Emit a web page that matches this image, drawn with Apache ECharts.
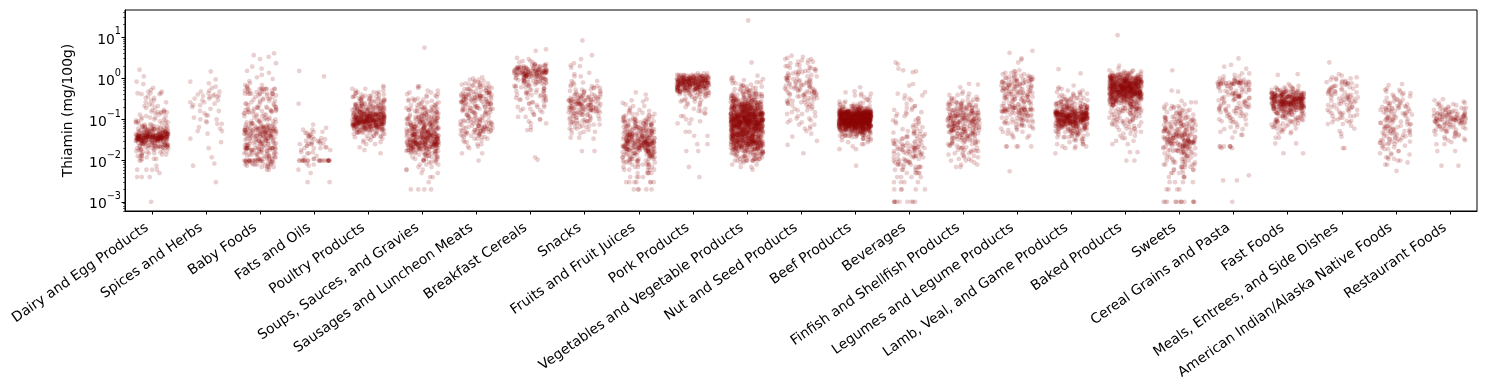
<!DOCTYPE html>
<html><head><meta charset="utf-8">
<script src="https://cdn.jsdelivr.net/npm/echarts@6/dist/echarts.min.js"></script>
<style>html,body{margin:0;padding:0;background:#fff}#c{width:1486px;height:390px}</style>
</head><body><div id="c"></div>
<script>
// ---- categories (x tick labels) ----
const categories = ["Dairy and Egg Products","Spices and Herbs","Baby Foods","Fats and Oils","Poultry Products","Soups, Sauces, and Gravies","Sausages and Luncheon Meats","Breakfast Cereals","Snacks","Fruits and Fruit Juices","Pork Products","Vegetables and Vegetable Products","Nut and Seed Products","Beef Products","Beverages","Finfish and Shellfish Products","Legumes and Legume Products","Lamb, Veal, and Game Products","Baked Products","Sweets","Cereal Grains and Pasta","Fast Foods","Meals, Entrees, and Side Dishes","American Indian/Alaska Native Foods","Restaurant Foods"];

// ---- y tick labels ----
const yMajorTicks = [0.001, 0.01, 0.1, 1, 10];

// ---- thiamin values per category, as [value mg/100g, number of foods] ----
const dairy = [[1.6,1],[1.1,1],[0.82,1],[0.72,1],[0.58,1],[0.52,1],[0.47,2],[0.43,3],[0.41,2],[0.36,1],[0.33,2],[0.29,2],[0.26,2],[0.23,2],[0.21,2],[0.19,2],[0.17,2],[0.155,3],[0.15,3],[0.14,2],[0.13,2],[0.12,2],[0.11,3],[0.1,3],[0.095,2],[0.09,2],[0.085,3],[0.08,3],[0.075,3],[0.07,4],[0.066,4],[0.063,5],[0.06,6],[0.057,6],[0.055,6],[0.052,7],[0.05,8],[0.048,9],[0.046,10],[0.044,12],[0.042,14],[0.04,16],[0.039,14],[0.038,14],[0.037,14],[0.036,14],[0.035,14],[0.034,12],[0.033,10],[0.032,10],[0.031,9],[0.03,9],[0.029,6],[0.028,5],[0.027,5],[0.026,5],[0.025,5],[0.024,6],[0.023,7],[0.022,7],[0.021,5],[0.02,5],[0.019,3],[0.018,3],[0.017,3],[0.016,3],[0.015,3],[0.014,3],[0.013,3],[0.012,2],[0.011,3],[0.01,2],[0.0075,1],[0.006,4],[0.005,1],[0.004,3],[0.001,1]];
const spices = [[1.45,1],[0.93,1],[0.82,1],[0.75,1],[0.62,1],[0.58,1],[0.5,1],[0.47,2],[0.43,1],[0.4,2],[0.37,3],[0.35,2],[0.32,2],[0.29,2],[0.26,2],[0.24,1],[0.22,2],[0.2,1],[0.18,1],[0.16,2],[0.14,1],[0.125,2],[0.11,1],[0.1,2],[0.09,1],[0.085,1],[0.078,2],[0.065,1],[0.06,1],[0.052,2],[0.045,1],[0.034,1],[0.028,1],[0.02,1],[0.012,1],[0.0085,1],[0.0075,1],[0.003,1]];
const babyFoods = [[4.0,1],[3.6,1],[3.3,1],[2.9,1],[2.3,1],[1.9,1],[1.7,1],[1.5,1],[1.35,1],[1.2,1],[1.05,1],[0.95,1],[0.85,1],[0.75,1],[0.68,2],[0.62,2],[0.55,10],[0.5,4],[0.46,3],[0.42,10],[0.38,3],[0.35,2],[0.32,3],[0.3,2],[0.28,3],[0.26,2],[0.24,3],[0.22,3],[0.2,4],[0.19,3],[0.18,3],[0.17,4],[0.16,5],[0.15,3],[0.14,3],[0.13,3],[0.12,3],[0.11,3],[0.1,4],[0.095,2],[0.09,3],[0.085,3],[0.08,4],[0.075,4],[0.07,5],[0.066,5],[0.063,6],[0.06,8],[0.057,6],[0.055,8],[0.052,6],[0.05,10],[0.047,6],[0.045,6],[0.043,6],[0.04,10],[0.038,5],[0.036,5],[0.034,5],[0.032,5],[0.03,8],[0.028,4],[0.026,5],[0.025,5],[0.024,4],[0.022,5],[0.02,16],[0.019,4],[0.018,5],[0.017,4],[0.016,5],[0.015,5],[0.014,5],[0.013,5],[0.012,5],[0.011,6],[0.01,18],[0.0095,3],[0.009,5],[0.0085,3],[0.008,5],[0.0075,3],[0.007,4],[0.006,2]];
const fatsOils = [[1.5,1],[1.1,1],[0.24,1],[0.075,1],[0.062,1],[0.056,2],[0.05,2],[0.047,2],[0.043,2],[0.04,2],[0.037,2],[0.035,2],[0.033,2],[0.03,3],[0.028,2],[0.026,3],[0.025,3],[0.023,2],[0.021,2],[0.02,3],[0.018,2],[0.016,2],[0.015,2],[0.013,1],[0.012,1],[0.011,2],[0.01,22],[0.0085,1],[0.008,1],[0.0075,1],[0.006,1],[0.005,1],[0.003,2]];
const poultry = [[0.65,1],[0.6,1],[0.55,2],[0.5,2],[0.46,3],[0.43,3],[0.4,3],[0.37,4],[0.35,4],[0.33,4],[0.31,5],[0.29,5],[0.27,5],[0.25,6],[0.235,6],[0.22,6],[0.21,6],[0.2,7],[0.19,7],[0.18,8],[0.17,8],[0.16,9],[0.15,10],[0.14,11],[0.135,11],[0.13,12],[0.125,12],[0.12,13],[0.115,13],[0.11,14],[0.105,14],[0.1,15],[0.097,14],[0.094,14],[0.09,15],[0.087,14],[0.084,14],[0.08,15],[0.077,13],[0.074,13],[0.07,13],[0.067,11],[0.064,10],[0.06,10],[0.057,8],[0.054,7],[0.05,6],[0.047,5],[0.044,4],[0.04,4],[0.037,3],[0.034,2],[0.031,2],[0.028,2],[0.025,2],[0.021,1],[0.018,1],[0.015,1]];
const soups = [[5.5,1],[0.63,2],[0.58,1],[0.5,2],[0.45,2],[0.41,2],[0.38,2],[0.35,2],[0.32,2],[0.3,3],[0.28,3],[0.26,3],[0.24,3],[0.22,4],[0.2,4],[0.19,4],[0.18,4],[0.17,4],[0.16,5],[0.15,5],[0.14,5],[0.13,5],[0.12,5],[0.115,5],[0.11,5],[0.105,5],[0.1,6],[0.095,6],[0.09,6],[0.085,6],[0.08,7],[0.076,7],[0.072,7],[0.068,7],[0.064,8],[0.06,8],[0.057,8],[0.054,8],[0.051,9],[0.048,9],[0.045,10],[0.043,10],[0.041,10],[0.039,10],[0.037,11],[0.035,11],[0.033,11],[0.031,11],[0.029,11],[0.028,10],[0.027,10],[0.026,10],[0.025,10],[0.024,10],[0.023,9],[0.022,9],[0.021,8],[0.02,8],[0.019,7],[0.018,7],[0.017,6],[0.016,6],[0.015,5],[0.014,5],[0.013,4],[0.012,4],[0.011,4],[0.01,5],[0.009,3],[0.008,3],[0.007,2],[0.006,3],[0.005,2],[0.004,2],[0.003,1],[0.002,4]];
const sausages = [[1.05,1],[0.98,1],[0.92,2],[0.86,2],[0.8,2],[0.75,3],[0.7,3],[0.66,3],[0.62,3],[0.58,4],[0.54,4],[0.5,4],[0.47,4],[0.44,5],[0.41,5],[0.39,5],[0.37,6],[0.35,6],[0.33,6],[0.31,6],[0.29,6],[0.27,5],[0.26,5],[0.24,5],[0.23,4],[0.21,4],[0.2,4],[0.19,4],[0.18,4],[0.17,4],[0.16,4],[0.15,4],[0.14,4],[0.13,4],[0.12,4],[0.11,4],[0.1,4],[0.095,4],[0.09,4],[0.085,4],[0.08,4],[0.075,4],[0.07,5],[0.066,5],[0.062,5],[0.058,5],[0.055,5],[0.052,5],[0.049,5],[0.046,4],[0.043,4],[0.04,3],[0.037,3],[0.034,3],[0.031,2],[0.028,2],[0.025,2],[0.022,2],[0.02,1],[0.015,2],[0.01,1]];
const breakfastCereals = [[5.0,1],[4.6,1],[3.1,1],[2.9,1],[2.6,2],[2.4,2],[2.2,3],[2.05,4],[1.95,5],[1.85,6],[1.75,7],[1.65,8],[1.58,8],[1.5,10],[1.43,10],[1.36,10],[1.3,10],[1.24,9],[1.18,8],[1.12,7],[1.06,6],[1.0,6],[0.95,5],[0.9,5],[0.85,5],[0.8,5],[0.75,4],[0.7,4],[0.65,4],[0.6,3],[0.56,3],[0.52,3],[0.48,3],[0.45,3],[0.42,3],[0.39,3],[0.36,3],[0.33,3],[0.3,3],[0.28,2],[0.26,2],[0.24,2],[0.22,2],[0.2,3],[0.18,2],[0.165,2],[0.15,2],[0.13,2],[0.115,2],[0.1,2],[0.09,1],[0.08,2],[0.065,1],[0.055,2],[0.012,1],[0.0105,1]];
const snacks = [[8.2,1],[3.6,1],[2.9,1],[2.3,1],[2.05,1],[1.95,1],[1.8,1],[1.35,1],[1.25,1],[1.1,2],[0.85,2],[0.78,2],[0.7,2],[0.64,3],[0.58,3],[0.53,3],[0.49,3],[0.45,4],[0.41,4],[0.38,5],[0.35,5],[0.33,6],[0.31,6],[0.29,7],[0.27,7],[0.25,7],[0.235,7],[0.22,7],[0.205,7],[0.19,7],[0.18,6],[0.17,6],[0.16,6],[0.15,5],[0.14,5],[0.13,5],[0.12,4],[0.11,4],[0.1,4],[0.095,3],[0.09,3],[0.085,3],[0.08,3],[0.075,3],[0.07,2],[0.065,3],[0.06,2],[0.055,2],[0.05,2],[0.046,2],[0.036,2],[0.034,1],[0.017,2]];
const fruits = [[0.45,1],[0.4,1],[0.31,1],[0.29,1],[0.27,1],[0.25,1],[0.23,1],[0.21,2],[0.19,1],[0.17,2],[0.16,2],[0.145,2],[0.135,3],[0.125,3],[0.115,3],[0.105,4],[0.1,4],[0.095,4],[0.09,5],[0.085,5],[0.08,5],[0.075,6],[0.07,6],[0.066,6],[0.062,6],[0.058,6],[0.055,6],[0.052,7],[0.049,7],[0.046,7],[0.043,8],[0.041,8],[0.039,8],[0.037,8],[0.035,8],[0.033,8],[0.031,8],[0.03,8],[0.029,8],[0.028,8],[0.027,8],[0.026,8],[0.025,8],[0.024,8],[0.023,8],[0.022,8],[0.021,8],[0.02,9],[0.019,8],[0.018,8],[0.017,7],[0.016,7],[0.015,7],[0.014,7],[0.013,6],[0.012,6],[0.011,6],[0.01,7],[0.009,6],[0.008,6],[0.007,5],[0.006,5],[0.005,5],[0.004,4],[0.003,7],[0.002,5]];
const pork = [[1.3,3],[1.2,6],[1.15,8],[1.1,10],[1.05,12],[1.0,13],[0.96,13],[0.92,14],[0.88,14],[0.85,14],[0.82,14],[0.79,14],[0.76,14],[0.73,14],[0.7,14],[0.67,13],[0.64,13],[0.61,12],[0.58,12],[0.55,11],[0.52,10],[0.5,9],[0.47,8],[0.44,7],[0.41,5],[0.38,4],[0.35,3],[0.32,3],[0.29,3],[0.27,2],[0.25,2],[0.23,2],[0.2,2],[0.18,2],[0.16,2],[0.14,2],[0.12,2],[0.1,2],[0.09,1],[0.08,2],[0.05,2],[0.04,2],[0.025,2],[0.017,2],[0.007,1],[0.004,1]];
const vegetables = [[25,1],[2.4,1],[1.15,1],[1.05,1],[1.0,1],[0.95,1],[0.9,2],[0.85,1],[0.8,2],[0.75,2],[0.7,2],[0.66,2],[0.62,3],[0.58,3],[0.54,3],[0.5,4],[0.47,4],[0.44,5],[0.41,5],[0.39,5],[0.37,6],[0.35,6],[0.33,7],[0.31,8],[0.29,9],[0.275,9],[0.26,10],[0.245,11],[0.23,12],[0.22,13],[0.21,14],[0.2,15],[0.19,15],[0.18,16],[0.17,17],[0.16,18],[0.15,19],[0.14,19],[0.135,19],[0.13,19],[0.125,19],[0.12,19],[0.115,19],[0.11,19],[0.105,19],[0.1,20],[0.097,20],[0.094,20],[0.09,20],[0.087,20],[0.084,20],[0.08,21],[0.077,21],[0.074,21],[0.07,21],[0.067,20],[0.064,20],[0.06,20],[0.057,19],[0.054,19],[0.051,19],[0.048,18],[0.045,17],[0.043,17],[0.041,17],[0.039,16],[0.037,16],[0.035,15],[0.033,15],[0.031,14],[0.03,13],[0.029,13],[0.028,12],[0.027,12],[0.026,12],[0.025,11],[0.024,11],[0.023,10],[0.022,10],[0.021,10],[0.02,10],[0.019,9],[0.018,8],[0.017,8],[0.016,7],[0.015,7],[0.014,6],[0.013,6],[0.012,6],[0.011,6],[0.01,10],[0.009,2],[0.008,2],[0.007,2],[0.006,1]];
const nutsSeeds = [[3.5,1],[3.3,1],[3.1,1],[2.9,2],[2.7,2],[2.5,2],[2.3,2],[2.1,2],[1.95,2],[1.8,3],[1.65,3],[1.5,3],[1.4,3],[1.3,3],[1.2,3],[1.1,3],[1.02,3],[0.95,4],[0.88,4],[0.82,4],[0.76,4],[0.7,4],[0.65,4],[0.6,4],[0.56,4],[0.52,4],[0.48,4],[0.45,4],[0.42,4],[0.39,4],[0.36,4],[0.33,3],[0.3,3],[0.28,3],[0.26,3],[0.24,3],[0.22,3],[0.2,2],[0.18,2],[0.165,2],[0.15,2],[0.135,2],[0.12,2],[0.105,2],[0.095,2],[0.085,2],[0.075,2],[0.067,1],[0.06,2],[0.052,1],[0.045,1],[0.038,1],[0.03,1],[0.024,1],[0.015,1]];
const beef = [[0.6,1],[0.48,1],[0.45,1],[0.42,2],[0.38,2],[0.34,2],[0.3,2],[0.27,3],[0.25,3],[0.23,4],[0.21,5],[0.2,6],[0.19,8],[0.18,10],[0.17,13],[0.16,16],[0.155,19],[0.15,22],[0.145,25],[0.14,28],[0.135,31],[0.13,33],[0.125,35],[0.12,37],[0.115,38],[0.11,40],[0.105,41],[0.1,42],[0.097,41],[0.094,41],[0.09,41],[0.087,40],[0.084,39],[0.08,38],[0.077,36],[0.074,34],[0.07,32],[0.067,29],[0.064,26],[0.06,23],[0.057,19],[0.054,15],[0.051,12],[0.048,10],[0.045,8],[0.042,7],[0.04,6],[0.037,5],[0.034,4],[0.031,3],[0.028,2],[0.025,2],[0.022,1],[0.019,2],[0.0075,1]];
const beverages = [[2.4,1],[2.2,1],[1.7,1],[1.55,1],[1.45,1],[1.4,1],[0.72,1],[0.66,1],[0.46,1],[0.42,1],[0.38,2],[0.32,2],[0.29,1],[0.24,1],[0.21,2],[0.19,2],[0.17,2],[0.15,2],[0.135,2],[0.12,2],[0.105,2],[0.095,2],[0.088,2],[0.08,2],[0.072,2],[0.065,2],[0.058,2],[0.052,3],[0.048,3],[0.044,3],[0.04,3],[0.037,3],[0.034,3],[0.031,3],[0.029,3],[0.027,3],[0.025,4],[0.023,4],[0.022,3],[0.021,3],[0.02,4],[0.019,3],[0.018,4],[0.017,3],[0.016,4],[0.015,3],[0.014,4],[0.013,3],[0.012,4],[0.011,3],[0.01,5],[0.009,5],[0.008,5],[0.007,5],[0.006,5],[0.005,5],[0.004,4],[0.003,4],[0.002,5],[0.001,9]];
const finfish = [[0.73,1],[0.7,1],[0.6,1],[0.47,1],[0.42,2],[0.39,2],[0.35,2],[0.32,3],[0.3,3],[0.28,3],[0.26,4],[0.245,4],[0.23,4],[0.22,5],[0.205,5],[0.19,5],[0.18,5],[0.17,6],[0.16,6],[0.15,6],[0.14,7],[0.13,7],[0.125,7],[0.12,7],[0.11,7],[0.105,7],[0.1,7],[0.095,7],[0.09,7],[0.085,7],[0.08,7],[0.075,7],[0.07,7],[0.066,7],[0.062,7],[0.058,7],[0.055,6],[0.052,6],[0.049,6],[0.046,6],[0.043,5],[0.04,5],[0.038,5],[0.035,5],[0.033,4],[0.031,4],[0.029,4],[0.027,4],[0.025,4],[0.023,3],[0.021,3],[0.02,3],[0.018,3],[0.017,3],[0.016,2],[0.015,2],[0.014,2],[0.013,2],[0.012,2],[0.011,2],[0.01,3],[0.009,1],[0.008,2],[0.007,2]];
const legumes = [[4.6,1],[4.1,1],[3.0,1],[2.8,1],[2.4,1],[1.55,1],[1.45,2],[1.35,2],[1.25,3],[1.15,3],[1.08,4],[1.02,4],[0.96,4],[0.9,5],[0.85,5],[0.8,5],[0.75,5],[0.7,5],[0.66,5],[0.62,5],[0.58,5],[0.54,5],[0.5,5],[0.47,5],[0.44,5],[0.41,5],[0.38,5],[0.35,5],[0.33,4],[0.31,4],[0.29,4],[0.27,4],[0.25,4],[0.23,4],[0.21,4],[0.2,4],[0.19,5],[0.18,6],[0.17,12],[0.16,6],[0.15,5],[0.14,5],[0.13,5],[0.12,4],[0.11,4],[0.1,4],[0.095,3],[0.09,3],[0.085,3],[0.08,3],[0.075,3],[0.07,3],[0.065,2],[0.06,3],[0.055,2],[0.05,2],[0.045,2],[0.04,2],[0.036,2],[0.022,5],[0.0055,1]];
const lambVealGame = [[1.65,1],[1.3,1],[0.66,1],[0.6,1],[0.55,2],[0.5,2],[0.46,2],[0.42,3],[0.39,3],[0.36,3],[0.33,4],[0.31,4],[0.29,4],[0.27,5],[0.25,5],[0.235,6],[0.22,6],[0.21,7],[0.2,7],[0.19,8],[0.18,9],[0.17,10],[0.16,11],[0.15,13],[0.145,14],[0.14,15],[0.135,16],[0.13,16],[0.125,17],[0.12,17],[0.115,17],[0.11,17],[0.105,17],[0.1,17],[0.096,16],[0.092,16],[0.088,15],[0.084,14],[0.08,13],[0.076,12],[0.072,11],[0.068,10],[0.064,9],[0.06,8],[0.056,7],[0.052,6],[0.049,5],[0.046,5],[0.043,4],[0.04,4],[0.037,4],[0.034,3],[0.031,3],[0.028,2],[0.025,3],[0.022,3],[0.02,2],[0.015,1]];
const baked = [[11,1],[2.0,1],[1.7,1],[1.55,2],[1.45,3],[1.35,4],[1.28,6],[1.2,8],[1.14,10],[1.08,12],[1.02,14],[0.97,16],[0.92,18],[0.87,20],[0.82,21],[0.78,22],[0.74,23],[0.7,24],[0.66,24],[0.63,24],[0.6,24],[0.57,24],[0.54,24],[0.51,24],[0.48,23],[0.46,22],[0.44,21],[0.42,20],[0.4,19],[0.38,18],[0.36,17],[0.34,16],[0.32,14],[0.3,13],[0.28,12],[0.265,10],[0.25,9],[0.235,8],[0.22,7],[0.205,7],[0.19,6],[0.18,6],[0.17,5],[0.16,5],[0.15,5],[0.14,4],[0.13,4],[0.12,4],[0.11,4],[0.1,4],[0.095,3],[0.09,3],[0.085,3],[0.08,3],[0.075,2],[0.07,3],[0.065,2],[0.06,3],[0.055,2],[0.05,2],[0.045,2],[0.04,2],[0.035,2],[0.03,2],[0.025,2],[0.016,2],[0.01,2]];
const sweets = [[1.55,1],[0.5,1],[0.47,1],[0.28,1],[0.26,2],[0.23,2],[0.21,2],[0.2,2],[0.19,2],[0.18,2],[0.17,2],[0.16,2],[0.15,3],[0.14,3],[0.13,3],[0.12,3],[0.115,3],[0.11,3],[0.105,3],[0.1,4],[0.095,4],[0.09,4],[0.085,4],[0.08,4],[0.076,4],[0.072,4],[0.068,4],[0.064,4],[0.06,5],[0.057,5],[0.054,5],[0.051,5],[0.048,5],[0.045,5],[0.043,5],[0.041,6],[0.039,6],[0.037,6],[0.035,6],[0.033,6],[0.031,6],[0.03,5],[0.029,5],[0.028,5],[0.027,5],[0.026,5],[0.025,5],[0.024,4],[0.023,4],[0.022,4],[0.021,4],[0.02,4],[0.019,4],[0.018,4],[0.017,4],[0.016,4],[0.015,4],[0.014,3],[0.013,3],[0.012,4],[0.011,3],[0.01,4],[0.009,5],[0.008,5],[0.007,5],[0.006,5],[0.005,4],[0.004,4],[0.003,4],[0.002,4],[0.001,12]];
const cerealGrains = [[3.0,1],[2.1,1],[1.9,1],[1.7,1],[1.3,2],[1.2,1],[1.1,2],[0.98,2],[0.92,3],[0.87,4],[0.82,5],[0.78,7],[0.75,9],[0.72,7],[0.68,4],[0.64,3],[0.6,3],[0.56,3],[0.52,3],[0.49,3],[0.46,3],[0.43,3],[0.4,4],[0.37,4],[0.35,4],[0.33,3],[0.31,3],[0.29,3],[0.27,3],[0.25,3],[0.23,3],[0.21,3],[0.2,3],[0.19,3],[0.18,3],[0.17,2],[0.16,3],[0.15,2],[0.14,3],[0.13,2],[0.12,3],[0.11,2],[0.1,3],[0.09,2],[0.085,2],[0.075,2],[0.065,2],[0.058,2],[0.05,2],[0.042,2],[0.036,1],[0.022,6],[0.02,2],[0.0044,1],[0.0033,2],[0.001,1]];
const fastFoods = [[1.25,1],[1.2,1],[0.72,1],[0.65,2],[0.6,3],[0.56,4],[0.52,5],[0.49,6],[0.46,7],[0.44,8],[0.42,10],[0.4,11],[0.38,12],[0.36,13],[0.345,14],[0.33,14],[0.315,15],[0.3,15],[0.285,15],[0.27,15],[0.26,14],[0.25,14],[0.24,13],[0.23,13],[0.22,12],[0.21,12],[0.2,11],[0.19,10],[0.18,9],[0.17,9],[0.16,8],[0.15,7],[0.14,7],[0.13,6],[0.12,6],[0.11,5],[0.1,5],[0.095,4],[0.09,4],[0.085,3],[0.08,3],[0.075,3],[0.07,3],[0.065,2],[0.06,3],[0.055,2],[0.05,2],[0.046,2],[0.036,2],[0.026,2],[0.015,2]];
const meals = [[2.4,1],[1.25,1],[1.15,1],[1.05,2],[0.98,2],[0.92,2],[0.86,2],[0.8,3],[0.75,3],[0.7,3],[0.65,3],[0.6,3],[0.56,3],[0.52,3],[0.48,3],[0.45,3],[0.42,3],[0.39,3],[0.36,3],[0.34,3],[0.32,3],[0.3,3],[0.28,3],[0.26,3],[0.24,3],[0.22,3],[0.2,3],[0.185,3],[0.17,3],[0.155,3],[0.14,3],[0.13,2],[0.12,3],[0.11,2],[0.1,2],[0.092,2],[0.085,2],[0.077,2],[0.07,1],[0.06,1],[0.052,1],[0.045,1],[0.038,1],[0.02,2]];
const nativeFoods = [[0.72,1],[0.68,1],[0.56,1],[0.52,2],[0.47,2],[0.43,2],[0.4,2],[0.36,2],[0.33,2],[0.3,3],[0.27,3],[0.25,3],[0.23,3],[0.21,3],[0.2,3],[0.185,6],[0.17,3],[0.16,3],[0.15,3],[0.14,3],[0.13,3],[0.12,3],[0.11,4],[0.1,4],[0.094,3],[0.088,3],[0.082,3],[0.076,3],[0.07,4],[0.065,3],[0.06,4],[0.056,3],[0.052,4],[0.048,4],[0.045,3],[0.042,3],[0.039,3],[0.036,3],[0.033,3],[0.031,3],[0.029,3],[0.027,3],[0.025,3],[0.023,2],[0.021,2],[0.019,2],[0.017,2],[0.015,2],[0.014,2],[0.012,2],[0.011,2],[0.01,2],[0.009,1],[0.008,2],[0.0056,1]];
const restaurant = [[0.31,1],[0.29,1],[0.27,1],[0.25,2],[0.235,2],[0.22,2],[0.205,2],[0.19,3],[0.18,3],[0.17,3],[0.16,3],[0.15,4],[0.14,4],[0.135,4],[0.13,4],[0.125,4],[0.12,4],[0.115,4],[0.11,5],[0.105,5],[0.1,8],[0.096,5],[0.092,4],[0.088,4],[0.084,4],[0.08,4],[0.076,3],[0.072,3],[0.068,3],[0.064,3],[0.06,3],[0.056,3],[0.052,3],[0.049,2],[0.046,2],[0.043,2],[0.04,2],[0.037,2],[0.034,2],[0.031,2],[0.028,1],[0.025,2],[0.017,2],[0.0075,2]];

const groups = [dairy, spices, babyFoods, fatsOils, poultry, soups, sausages, breakfastCereals, snacks, fruits, pork, vegetables, nutsSeeds, beef, beverages, finfish, legumes, lambVealGame, baked, sweets, cerealGrains, fastFoods, meals, nativeFoods, restaurant];

// ---- strip-plot layout: category index + deterministic (hashed) horizontal jitter ----
const JITTER = 0.6;
function hash01(i) {
  let h = Math.imul(i ^ 0x9e3779b9, 0x85ebca6b);
  h ^= h >>> 13; h = Math.imul(h, 0xc2b2ae35); h ^= h >>> 16;
  return (h >>> 0) / 4294967296;
}
const points = [];
groups.forEach((g, ci) => {
  let k = 0;
  g.forEach(([v, n]) => {
    for (let j = 0; j < n; j++) {
      points.push([ci + (hash01(ci * 100003 + k) - 0.5) * JITTER, v]);
      k++;
    }
  });
});

const YMIN = 6.0e-4, YMAX = 45;
const yMinorTicks = [];
for (let e = -4; e <= 1; e++) for (let m = 2; m <= 9; m++) {
  const v = +(m * Math.pow(10, e)).toPrecision(3);
  if (v >= YMIN && v <= YMAX) yMinorTicks.push(v);
}

const FONT = 'DejaVu Sans';
const chart = echarts.init(document.getElementById('c'), null, {renderer: 'canvas'});
chart.setOption({
  animation: false,
  backgroundColor: '#fff',
  grid: {left: 125, right: 9, top: 10, bottom: 179, show: true, borderColor: '#000', borderWidth: 1, backgroundColor: 'transparent'},
  xAxis: [{
    type: 'category', data: categories, boundaryGap: true,
    axisLine: {show: true, onZero: false, lineStyle: {color: '#000', width: 1}},
    axisTick: {show: true, alignWithLabel: true, interval: 0, length: 3.5, lineStyle: {color: '#000'}},
    axisLabel: {interval: 0, rotate: 35, margin: 12, padding: [0, 6, 0, 0], fontSize: 13.9, fontFamily: FONT, color: '#000'},
    splitLine: {show: false}
  }, {
    type: 'value', min: -0.5, max: 24.5, show: false,
    axisLine: {show: false, onZero: false}, splitLine: {show: false}
  }],
  yAxis: [{
    type: 'log', logBase: 10, min: YMIN, max: YMAX,
    name: 'Thiamin (mg/100g)', nameLocation: 'middle', nameGap: 50,
    nameTextStyle: {fontSize: 13.9, fontFamily: FONT, color: '#000'},
    axisLine: {show: true, onZero: false, lineStyle: {color: '#000', width: 1}},
    axisTick: {show: true, length: 3.5, customValues: yMajorTicks, lineStyle: {color: '#000'}},
    axisLabel: {
      customValues: yMajorTicks, margin: 4,
      formatter: (v) => {
        const e = Math.round(Math.log10(v));
        return '{b|10}{s|' + (e < 0 ? '\u2212' + (-e) : e) + '}';
      },
      rich: {
        b: {fontSize: 13.9, fontFamily: FONT, color: '#000', verticalAlign: 'bottom', lineHeight: 20},
        s: {fontSize: 9.7, fontFamily: FONT, color: '#000', verticalAlign: 'top', lineHeight: 20}
      }
    },
    splitLine: {show: false}
  }, {
    type: 'log', logBase: 10, min: YMIN, max: YMAX, position: 'left',
    axisLine: {show: false, onZero: false},
    axisTick: {show: true, length: 2, customValues: yMinorTicks, lineStyle: {color: '#000', width: 0.6}},
    axisLabel: {show: false},
    splitLine: {show: false}
  }],
  series: [{
    type: 'scatter', xAxisIndex: 1, yAxisIndex: 0,
    data: points, symbolSize: 4.8,
    itemStyle: {color: 'rgba(139,0,0,0.23)', borderWidth: 0},
    emphasis: {disabled: true}, silent: true, large: false
  }]
});
</script></body></html>
